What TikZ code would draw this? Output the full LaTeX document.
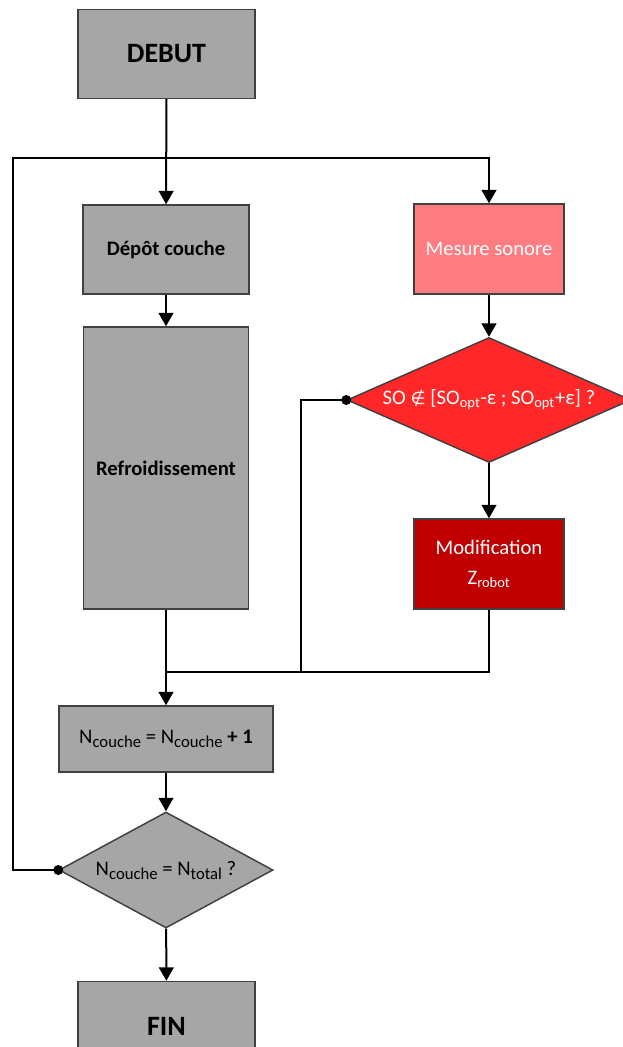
\documentclass[tikz,border=0pt]{standalone}
\usepackage{fontspec}
\setmainfont{Carlito}
\newfontfamily\symfont{DejaVu Sans}
\usetikzlibrary{arrows.meta, shapes.geometric}
\definecolor{boxc}{HTML}{A6A6A6}
\definecolor{edgec}{HTML}{404040}
\definecolor{mesc}{HTML}{FF7C80}
\definecolor{testc}{HTML}{FF2727}
\definecolor{modc}{HTML}{C00000}
\tikzset{
  blk/.style={draw=edgec, fill=boxc, line width=1.1pt, inner sep=0pt, align=center,
              font=\fontsize{15.5}{20}\selectfont},
  ends/.style={blk, minimum width=132.75pt, minimum height=66.75pt,
               font=\bfseries\fontsize{21}{25}\selectfont},
  dec/.style={blk, diamond, inner sep=0pt},
  arr/.style={-{Triangle[length=10pt,width=11pt]}, line width=1.5pt},
  wire/.style={line width=1.5pt},
  dot/.style={circle, fill=black, inner sep=0pt, minimum size=7.5pt},
}
\newcommand{\sub}[1]{\textsubscript{#1}}
\newcommand{\subn}[1]{\raisebox{-3pt}{\fontsize{12.5}{13}\selectfont #1}}

\begin{document}
\begin{tikzpicture}[x=0.75pt, y=-0.75pt,
  red/.style={blk, text=white}]
\useasboundingbox (0,0) rectangle (623,1047);

% left column
\node[ends] (debut) at (166.5,54) {DEBUT};
\node[blk, minimum width=124.5pt, minimum height=66.75pt, font=\bfseries\fontsize{15.5}{20}\selectfont] (depot) at (166,249.5) {Dépôt couche};
\node[blk, minimum width=123.75pt, minimum height=211.5pt, font=\bfseries\fontsize{15.5}{20}\selectfont] (refr) at (166,468) {Refroidissement};

% right column
\node[red, fill=mesc, minimum width=112.5pt, minimum height=67.5pt] (mesure) at (489,249) {Mesure sonore};
\node[red, dec, fill=testc, aspect=2.27, minimum width=213pt, minimum height=93.75pt] (so) at (489,400)
  {SO {\symfont\fontsize{13}{16}\selectfont∉} [SO\sub{opt}-ε ; SO\sub{opt}+ε] ?};
\node[red, fill=modc, minimum width=112.5pt, minimum height=67.5pt] (modif) at (489,564) {Modification\\[2pt]Z\sub{robot}};

% counter and end test
\node[blk, minimum width=160.5pt, minimum height=49.5pt] (ncouche) at (166,739) {N\subn{couche} = N\subn{couche} \textbf{+ 1}};
\node[dec, aspect=1.85, minimum width=160.5pt, minimum height=87pt] (ntot) at (166,870) {N\subn{couche} = N\subn{total} ?};
\node[ends] (fin) at (166.5,1026) {FIN};

% joints of the wires
\coordinate (split) at (489,158);
\coordinate (lt) at (13,158);
\coordinate (lb) at (13,870);
\coordinate (bend) at (301,400);
\coordinate (join) at (166,672);
\coordinate (jr) at (489,672);

% connectors
\draw[arr] (debut) -- (depot);
\draw[arr] (ntot.west) -- (lb) -- (lt) -- (split) -- (mesure);
\draw[arr] (depot) -- (refr);
\draw[arr] (refr) -- (ncouche);
\draw[arr] (mesure) -- (so);
\draw[arr] (so) -- (modif);
\draw[wire] (so.west) -- (bend) |- (join);
\draw[wire] (modif) -- (jr) -- (join);
\draw[arr] (ncouche) -- (ntot);
\draw[arr] (ntot) -- (fin);
\node[dot] at (so.west) {};
\node[dot] at (ntot.west) {};
\end{tikzpicture}
\end{document}
